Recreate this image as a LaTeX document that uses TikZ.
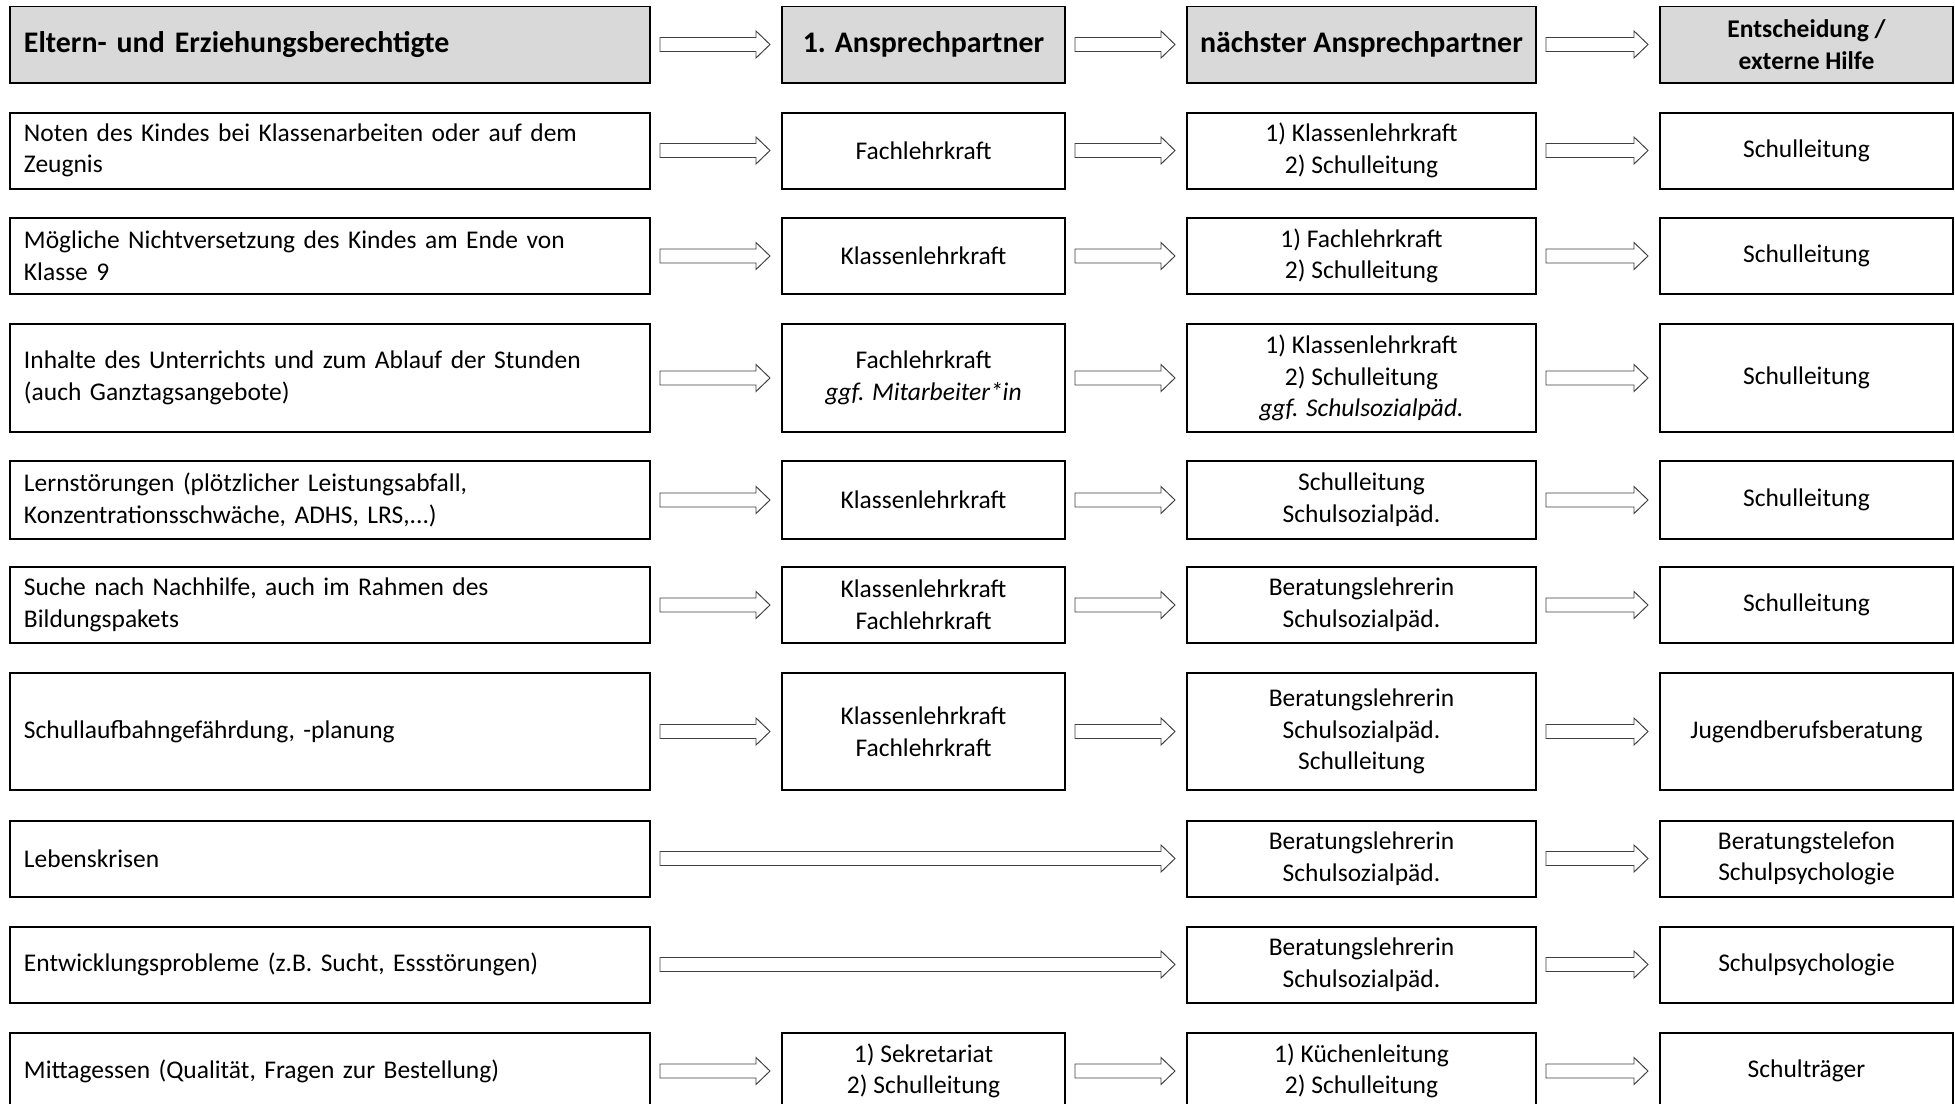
\documentclass[tikz,border=0pt]{standalone}
\usepackage{fontspec}
\setmainfont{Carlito}
\usepackage{tikz}
\usetikzlibrary{calc}
\definecolor{headgray}{HTML}{D9D9D9}
\definecolor{arrowgray}{HTML}{404040}
\newcommand{\cellfont}{\fontsize{14.5}{18}\selectfont}
\newcommand{\headfont}{\fontsize{17}{20}\selectfont\bfseries}
\newcommand{\blockarrow}[2]{
	\draw[arrowline] let \p1 = (#1.east), \p2 = (#2.west) in
		(\x1+0.18cm,\y1+0.14cm) -- (\x2-0.5cm,\y1+0.14cm) -- (\x2-0.5cm,\y1+0.27cm)
		-- (\x2-0.22cm,\y1) -- (\x2-0.5cm,\y1-0.27cm) -- (\x2-0.5cm,\y1-0.14cm)
		-- (\x1+0.18cm,\y1-0.14cm) -- cycle;
}
\tikzset{
	cell/.style   = {draw, line width=0.04cm, inner sep=0pt, align=center,
	                 minimum height=1.52cm, font=\cellfont},
	head/.style   = {fill=headgray, font=\headfont},
	topic/.style  = {cell, align=left, inner xsep=0.28cm, text width=12.24cm},
	first/.style  = {cell, minimum width=5.66cm},
	next/.style   = {cell, minimum width=6.98cm},
	final/.style  = {cell, minimum width=5.86cm},
	arrowline/.style = {draw=arrowgray, fill=white, line width=0.55pt, line join=miter}
}

\begin{document}
\begin{tikzpicture}
	\useasboundingbox (0,0) rectangle (39.1,-22.08);
	\node[topic,head] (E0) at (6.6,-0.89) {Eltern- und Erziehungsberechtigte};
	\node[first,head] (A0) at (18.47,-0.89) {1. Ansprechpartner};
	\node[next,head]  (N0) at (27.23,-0.89) {nächster Ansprechpartner};
	\node[final,head,font=\cellfont\bfseries] (X0) at (36.13,-0.89) {Entscheidung /\\externe Hilfe};

	\node[topic] (E1) at (6.6,-3.01) {Noten des Kindes bei Klassenarbeiten oder auf dem\\Zeugnis};
	\node[first] (A1) at (18.47,-3.01) {Fachlehrkraft};
	\node[next]  (N1) at (27.23,-3.01) {1) Klassenlehrkraft\\2) Schulleitung};
	\node[final] (X1) at (36.13,-3.01) {Schulleitung};

	\node[topic] (E2) at (6.6,-5.12) {Mögliche Nichtversetzung des Kindes am Ende von\\Klasse 9};
	\node[first] (A2) at (18.47,-5.12) {Klassenlehrkraft};
	\node[next]  (N2) at (27.23,-5.12) {1) Fachlehrkraft\\2) Schulleitung};
	\node[final] (X2) at (36.13,-5.12) {Schulleitung};

	\node[topic,minimum height=2.16cm] (E3) at (6.6,-7.56) {Inhalte des Unterrichts und zum Ablauf der Stunden\\(auch Ganztagsangebote)};
	\node[first,minimum height=2.16cm] (A3) at (18.47,-7.56) {Fachlehrkraft\\\textit{ggf. Mitarbeiter*in}};
	\node[next,minimum height=2.16cm]  (N3) at (27.23,-7.56) {1) Klassenlehrkraft\\2) Schulleitung\\\textit{ggf. Schulsozialpäd.}};
	\node[final,minimum height=2.16cm] (X3) at (36.13,-7.56) {Schulleitung};

	\node[topic,minimum height=1.56cm] (E4) at (6.6,-10.0) {Lernstörungen (plötzlicher Leistungsabfall,\\Konzentrationsschwäche, ADHS, LRS,...)};
	\node[first,minimum height=1.56cm] (A4) at (18.47,-10.0) {Klassenlehrkraft};
	\node[next,minimum height=1.56cm]  (N4) at (27.23,-10.0) {Schulleitung\\Schulsozialpäd.};
	\node[final,minimum height=1.56cm] (X4) at (36.13,-10.0) {Schulleitung};

	\node[topic] (E5) at (6.6,-12.1) {Suche nach Nachhilfe, auch im Rahmen des\\Bildungspakets};
	\node[first] (A5) at (18.47,-12.1) {Klassenlehrkraft\\Fachlehrkraft};
	\node[next]  (N5) at (27.23,-12.1) {Beratungslehrerin\\Schulsozialpäd.};
	\node[final] (X5) at (36.13,-12.1) {Schulleitung};

	\node[topic,minimum height=2.34cm] (E6) at (6.6,-14.63) {Schullaufbahngefährdung, -planung};
	\node[first,minimum height=2.34cm] (A6) at (18.47,-14.63) {Klassenlehrkraft\\Fachlehrkraft};
	\node[next,minimum height=2.34cm]  (N6) at (27.23,-14.63) {Beratungslehrerin\\Schulsozialpäd.\\Schulleitung};
	\node[final,minimum height=2.34cm] (X6) at (36.13,-14.63) {Jugendberufsberatung};

	\node[topic] (E7) at (6.6,-17.17) {Lebenskrisen};
	\node[next]  (N7) at (27.23,-17.17) {Beratungslehrerin\\Schulsozialpäd.};
	\node[final] (X7) at (36.13,-17.17) {Beratungstelefon\\Schulpsychologie};

	\node[topic] (E8) at (6.6,-19.29) {Entwicklungsprobleme (z.B. Sucht, Essstörungen)};
	\node[next]  (N8) at (27.23,-19.29) {Beratungslehrerin\\Schulsozialpäd.};
	\node[final] (X8) at (36.13,-19.29) {Schulpsychologie};

	\node[topic] (E9) at (6.6,-21.42) {Mittagessen (Qualität, Fragen zur Bestellung)};
	\node[first] (A9) at (18.47,-21.42) {1) Sekretariat\\2) Schulleitung};
	\node[next]  (N9) at (27.23,-21.42) {1) Küchenleitung\\2) Schulleitung};
	\node[final] (X9) at (36.13,-21.42) {Schulträger};

	\foreach \r in {0,1,2,3,4,5,6,9}{
		\blockarrow{E\r}{A\r}
		\blockarrow{A\r}{N\r}
	}
	\blockarrow{E7}{N7}
	\blockarrow{E8}{N8}
	\foreach \r in {0,...,9}{
		\blockarrow{N\r}{X\r}
	}
\end{tikzpicture}
\end{document}
